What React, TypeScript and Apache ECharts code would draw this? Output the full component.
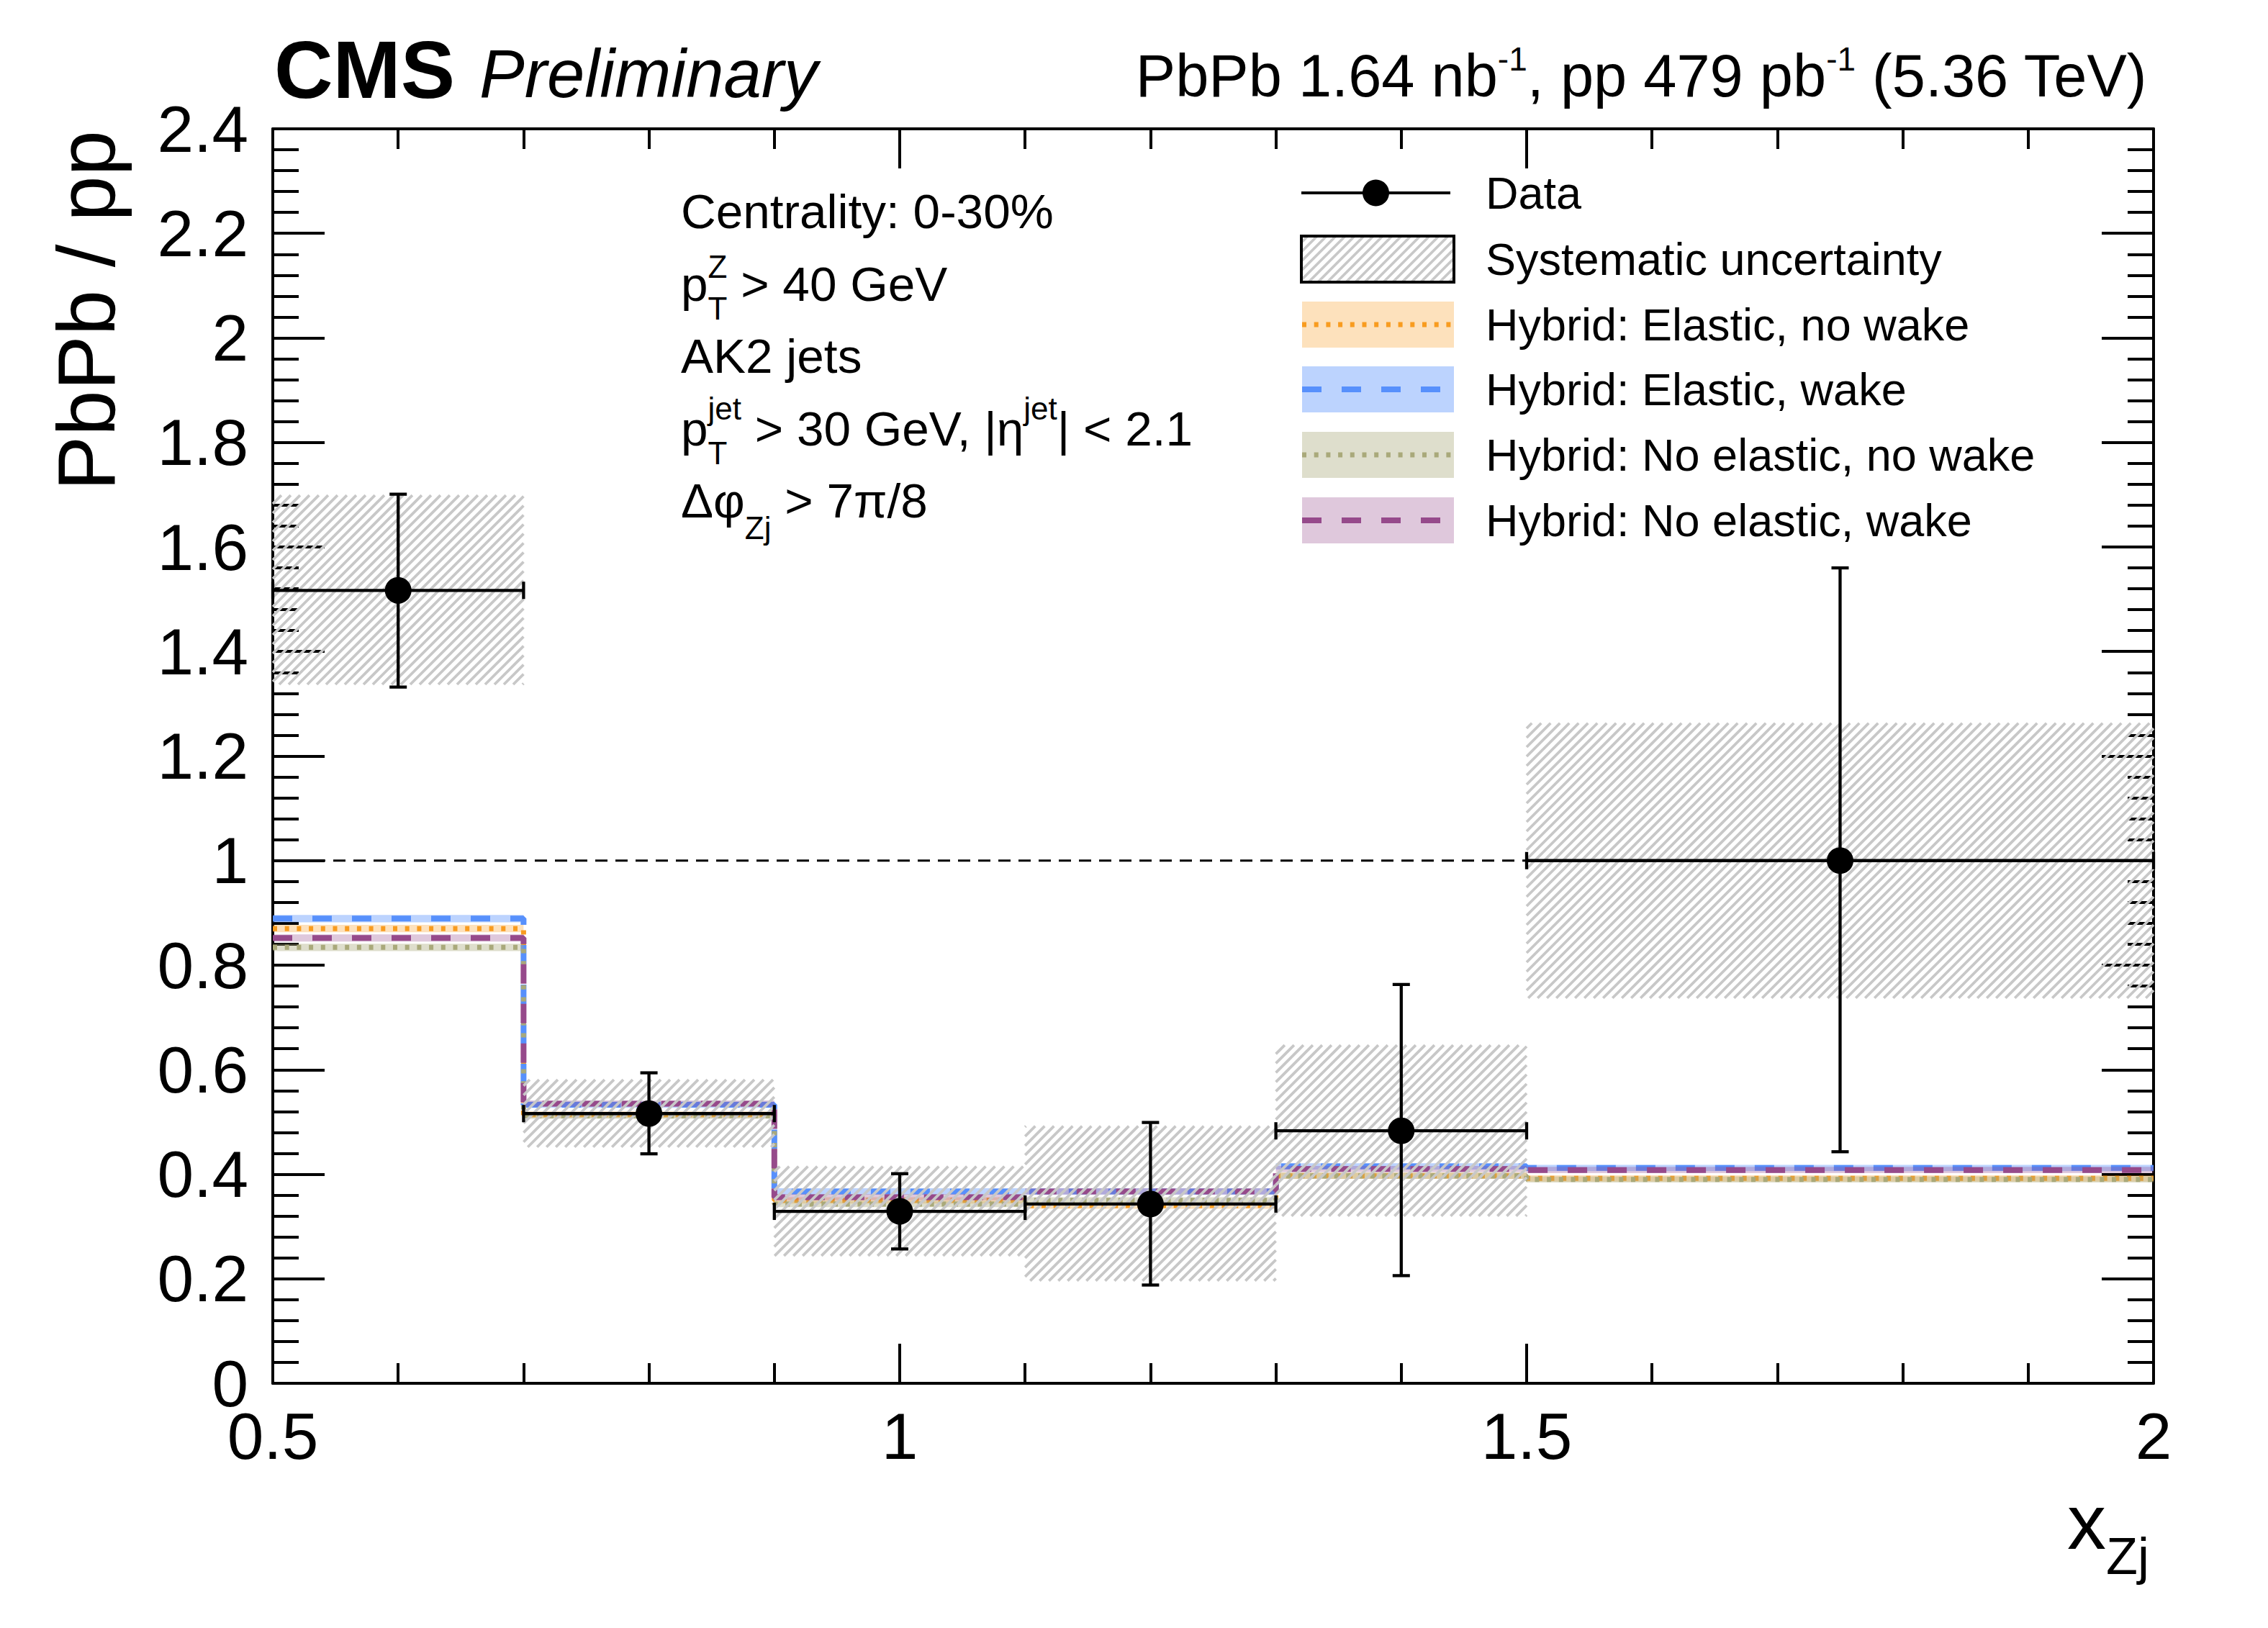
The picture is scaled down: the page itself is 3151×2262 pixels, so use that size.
import React, { useEffect, useRef } from "react";
import * as echarts from "echarts";

// ---------------- data ----------------
const binEdges = [0.5, 0.7, 0.9, 1.1, 1.3, 1.5, 2.0];
const dataX = [0.6, 0.8, 1.0, 1.2, 1.4, 1.75];
const dataY = [1.517, 0.516, 0.329, 0.343, 0.483, 1.0];
const statHigh = [1.701, 0.594, 0.401, 0.499, 0.763, 1.56];
const statLow = [1.332, 0.439, 0.257, 0.188, 0.206, 0.443];
const systHigh = [1.699, 0.581, 0.415, 0.492, 0.647, 1.263];
const systLow = [1.337, 0.452, 0.244, 0.196, 0.32, 0.737];

const elasticNoWake = [0.87, 0.514, 0.35, 0.34, 0.397, 0.392];
const elasticWake = [0.889, 0.533, 0.367, 0.367, 0.415, 0.412];
const noElasticNoWake = [0.834, 0.512, 0.343, 0.35, 0.397, 0.39];
const noElasticWake = [0.852, 0.535, 0.356, 0.367, 0.41, 0.408];
const modelUnc = [0.007, 0.006, 0.006, 0.006, 0.006, 0.006];

const modelValues = [elasticNoWake, elasticWake, noElasticNoWake, noElasticWake];
const legendLabels = [
  "Data",
  "Systematic uncertainty",
  "Hybrid: Elastic, no wake",
  "Hybrid: Elastic, wake",
  "Hybrid: No elastic, no wake",
  "Hybrid: No elastic, wake",
];
const referenceLineY = 1.0;
const referenceLineX = [0.5, 1.5];

const xRange = [0.5, 2.0];
const xInterval = 0.5;
const yRange = [0, 2.4];
const yInterval = 0.2;

// ---------------- styles ----------------
const FONT = '"Liberation Sans", Arial, Helvetica, sans-serif';
const MODEL_STYLES = [
  { line: "#f89c20", band: "rgba(248,156,32,0.30)", dash: [6, 10.7], width: 7 },
  { line: "#5790fc", band: "rgba(87,144,252,0.40)", dash: [27, 28], width: 8 },
  { line: "#a9a97a", band: "rgba(169,169,122,0.38)", dash: [6, 10.7], width: 7 },
  { line: "#964a8b", band: "rgba(150,74,139,0.30)", dash: [27, 28], width: 8 },
];
const HATCH_COLOR = "#c8c8c8";
const HATCH_PERIOD = 13;
const HATCH_WIDTH = 3.8;

const GRID = { left: 379, top: 179, width: 2613, height: 1743 };

// ---------------- helpers ----------------
let measureCtx: CanvasRenderingContext2D | null = null;
function fontStr(size: number, italic?: boolean, bold?: boolean) {
  return `${italic ? "italic" : "normal"} ${bold ? "bold" : "normal"} ${size}px ${FONT}`;
}
function measure(t: string, size: number, italic?: boolean, bold?: boolean) {
  if (!measureCtx) measureCtx = document.createElement("canvas").getContext("2d");
  if (!measureCtx) return t.length * size * 0.55;
  measureCtx.font = fontStr(size, italic, bold);
  return measureCtx.measureText(t).width;
}

type Seg = { t: string; size: number; rise?: number; italic?: boolean; bold?: boolean; stack?: boolean };

function layoutText(segs: Seg[], x: number, baseline: number, align: "left" | "right" = "left") {
  let cursor = 0;
  let lastStart = 0;
  let lastW = 0;
  const placed: { s: Seg; sx: number }[] = [];
  for (const s of segs) {
    const w = measure(s.t, s.size, s.italic, s.bold);
    let sx: number;
    if (s.stack) {
      sx = lastStart;
      lastW = Math.max(lastW, w);
      cursor = lastStart + lastW;
    } else {
      sx = cursor;
      lastStart = cursor;
      lastW = w;
      cursor += w;
    }
    placed.push({ s, sx });
  }
  const offset = align === "right" ? x - cursor : x;
  return placed.map(({ s, sx }) => ({
    type: "text",
    x: offset + sx,
    y: baseline - (s.rise || 0) - 0.347 * s.size,
    silent: true,
    style: {
      text: s.t,
      font: fontStr(s.size, s.italic, s.bold),
      fill: "#000",
      textAlign: "left",
      textVerticalAlign: "middle",
      verticalAlign: "middle",
    },
  }));
}

function hatchLines(x0: number, y0: number, x1: number, y1: number) {
  const out: any[] = [];
  const cStart = Math.ceil((x0 + y0) / HATCH_PERIOD) * HATCH_PERIOD;
  for (let c = cStart; c <= x1 + y1; c += HATCH_PERIOD) {
    const xa = Math.max(x0, c - y1);
    const xb = Math.min(x1, c - y0);
    if (xb - xa > 0.5) {
      out.push({
        type: "line",
        shape: { x1: xa, y1: c - xa, x2: xb, y2: c - xb },
        style: { stroke: HATCH_COLOR, lineWidth: HATCH_WIDTH },
      });
    }
  }
  return out;
}

function buildOption() {
  const axisLine = { show: true, onZero: false, lineStyle: { color: "#000", width: 4 } };
  const xTick = { show: true, inside: true, length: 55, lineStyle: { color: "#000", width: 4 } };
  const xMinor = { show: true, splitNumber: 5, length: 28, lineStyle: { color: "#000", width: 4 } };
  const yTick = { show: true, inside: true, length: 72, lineStyle: { color: "#000", width: 4 } };
  const yMinor = { show: true, splitNumber: 5, length: 36, lineStyle: { color: "#000", width: 4 } };
  const labelStyle = {
    fontSize: 91,
    lineHeight: 70,
    color: "#000",
    fontFamily: FONT,
    showMinLabel: true,
    showMaxLabel: true,
  };

  const bins = binEdges.slice(0, -1).map((e, i) => [e, binEdges[i + 1]]);

  const series: any[] = [];

  modelValues.forEach((vals, m) => {
    const st = MODEL_STYLES[m];
    series.push({
      type: "custom",
      name: legendLabels[m + 2] + " band",
      z: 2 + 2 * m,
      silent: true,
      encode: { x: [0, 1], y: [2, 3] },
      data: bins.map((b, i) => [b[0], b[1], vals[i] - modelUnc[i], vals[i] + modelUnc[i]]),
      renderItem: (_p: any, api: any) => {
        const a = api.coord([api.value(0), api.value(3)]);
        const b = api.coord([api.value(1), api.value(2)]);
        return {
          type: "rect",
          shape: { x: a[0], y: a[1], width: b[0] - a[0], height: b[1] - a[1] },
          style: { fill: st.band },
        };
      },
    });
    const stepPts: number[][] = [];
    bins.forEach((b, i) => {
      stepPts.push([b[0], vals[i]]);
      stepPts.push([b[1], vals[i]]);
    });
    series.push({
      type: "line",
      name: legendLabels[m + 2],
      z: 3 + 2 * m,
      silent: true,
      symbol: "none",
      showSymbol: false,
      data: stepPts,
      lineStyle: { color: st.line, width: st.width, type: st.dash, cap: "butt", opacity: 1 },
    });
  });

  // systematic hatch
  series.push({
    type: "custom",
    name: "Systematic uncertainty",
    z: 20,
    silent: true,
    encode: { x: [0, 1], y: [2, 3] },
    data: bins.map((b, i) => [b[0], b[1], systLow[i], systHigh[i]]),
    renderItem: (_p: any, api: any) => {
      const a = api.coord([api.value(0), api.value(3)]);
      const b = api.coord([api.value(1), api.value(2)]);
      return { type: "group", children: hatchLines(a[0], a[1], b[0], b[1]) };
    },
  });

  // reference dashed line at 1
  series.push({
    type: "line",
    name: "ref",
    z: 21,
    silent: true,
    symbol: "none",
    showSymbol: false,
    data: referenceLineX.map((x) => [x, referenceLineY]),
    lineStyle: { color: "#000", width: 3, type: [17, 11], opacity: 1 },
  });

  // data error bars
  series.push({
    type: "custom",
    name: "Data errors",
    z: 22,
    silent: true,
    encode: { x: [0], y: [1, 2, 3] },
    data: dataX.map((x, i) => [x, dataY[i], statLow[i], statHigh[i], binEdges[i], binEdges[i + 1]]),
    renderItem: (_p: any, api: any) => {
      const x = api.value(0);
      const y = api.value(1);
      const pc = api.coord([x, y]);
      const pl = api.coord([x, api.value(2)]);
      const ph = api.coord([x, api.value(3)]);
      const p0 = api.coord([api.value(4), y]);
      const p1 = api.coord([api.value(5), y]);
      const st = { stroke: "#000", lineWidth: 4.3 };
      const cap = 12;
      const ln = (x1: number, y1: number, x2: number, y2: number) => ({
        type: "line",
        shape: { x1, y1, x2, y2 },
        style: st,
      });
      return {
        type: "group",
        children: [
          ln(pc[0], pl[1], pc[0], ph[1]),
          ln(pc[0] - cap, pl[1], pc[0] + cap, pl[1]),
          ln(pc[0] - cap, ph[1], pc[0] + cap, ph[1]),
          ln(p0[0], pc[1], p1[0], pc[1]),
          ln(p0[0], pc[1] - cap, p0[0], pc[1] + cap),
          ln(p1[0], pc[1] - cap, p1[0], pc[1] + cap),
        ],
      };
    },
  });

  series.push({
    type: "scatter",
    name: "Data",
    z: 23,
    silent: true,
    symbol: "circle",
    symbolSize: 37,
    itemStyle: { color: "#000", borderWidth: 0, opacity: 1 },
    data: dataX.map((x, i) => [x, dataY[i]]),
  });

  // ---------- graphic: texts and legend ----------
  const graphic: any[] = [];

  // CMS Preliminary
  graphic.push(...layoutText([{ t: "CMS", size: 113, bold: true }], 381, 136));
  graphic.push(...layoutText([{ t: "Preliminary", size: 94, italic: true }], 666, 135));

  // header right
  graphic.push(
    ...layoutText(
      [
        { t: "PbPb 1.64 nb", size: 83 },
        { t: "-1", size: 46, rise: 36 },
        { t: ", pp 479 pb", size: 83 },
        { t: "-1", size: 46, rise: 36 },
        { t: " (5.36 TeV)", size: 83 },
      ],
      2984,
      134,
      "right"
    )
  );

  // info block
  const TX = 946;
  const TS = 67.5;
  const SS = 44;
  graphic.push(...layoutText([{ t: "Centrality: 0-30%", size: TS }], TX, 317));
  graphic.push(
    ...layoutText(
      [
        { t: "p", size: TS },
        { t: "T", size: SS, rise: -26 },
        { t: "Z", size: SS, rise: 32, stack: true },
        { t: " > 40 GeV", size: TS },
      ],
      TX,
      418
    )
  );
  graphic.push(...layoutText([{ t: "AK2 jets", size: TS }], TX, 518));
  graphic.push(
    ...layoutText(
      [
        { t: "p", size: TS },
        { t: "T", size: SS, rise: -26 },
        { t: "jet", size: SS, rise: 36, stack: true },
        { t: " > 30 GeV, |η", size: TS },
        { t: "jet", size: SS, rise: 36 },
        { t: "| < 2.1", size: TS },
      ],
      TX,
      619
    )
  );
  graphic.push(
    ...layoutText(
      [
        { t: "Δφ", size: TS },
        { t: "Zj", size: SS, rise: -30 },
        { t: " > 7π/8", size: TS },
      ],
      TX,
      719
    )
  );

  // y axis title (rotated)
  graphic.push({
    type: "text",
    x: 159 - 0.347 * 114,
    y: 181,
    rotation: Math.PI / 2,
    silent: true,
    style: {
      text: "PbPb / pp",
      font: fontStr(114),
      fill: "#000",
      textAlign: "right",
      textVerticalAlign: "middle",
      verticalAlign: "middle",
    },
  });

  // x axis title
  graphic.push(
    ...layoutText(
      [
        { t: "x", size: 108 },
        { t: "Zj", size: 72, rise: -35 },
      ],
      2872,
      2152
    )
  );

  // legend
  const LX0 = 1808;
  const LX1 = 2020;
  const LTX = 2064;
  const rows = [268, 360, 451, 541, 632, 723];
  const LS = 63;
  legendLabels.forEach((lab, i) => {
    graphic.push({
      type: "text",
      x: LTX,
      y: rows[i],
      silent: true,
      style: {
        text: lab,
        font: fontStr(LS),
        fill: "#000",
        textAlign: "left",
        textVerticalAlign: "middle",
        verticalAlign: "middle",
      },
    });
  });
  // data entry
  graphic.push({
    type: "line",
    silent: true,
    shape: { x1: LX0, y1: rows[0], x2: LX1 - 5, y2: rows[0] },
    style: { stroke: "#000", lineWidth: 4 },
  });
  graphic.push({
    type: "circle",
    silent: true,
    shape: { cx: (LX0 + LX1 - 5) / 2, cy: rows[0], r: 18.5 },
    style: { fill: "#000" },
  });
  // syst entry
  graphic.push({
    type: "group",
    silent: true,
    children: hatchLines(LX0, rows[1] - 32, LX1, rows[1] + 32),
  });
  graphic.push({
    type: "rect",
    silent: true,
    shape: { x: LX0, y: rows[1] - 32, width: LX1 - LX0, height: 64 },
    style: { fill: "none", stroke: "#000", lineWidth: 4 },
  });
  // model entries
  MODEL_STYLES.forEach((st, m) => {
    const cy = rows[m + 2];
    graphic.push({
      type: "rect",
      silent: true,
      shape: { x: LX0 + 1, y: cy - 32, width: LX1 - LX0 - 1, height: 64 },
      style: { fill: st.band },
    });
    graphic.push({
      type: "line",
      silent: true,
      shape: { x1: LX0 + 1, y1: cy, x2: LX1 - 2, y2: cy },
      style: { stroke: st.line, lineWidth: st.width, lineDash: st.dash },
    });
  });

  return {
    animation: false,
    backgroundColor: "#ffffff",
    grid: { ...GRID, containLabel: false, outerBoundsMode: "none" },
    xAxis: [
      {
        type: "value",
        position: "bottom",
        min: xRange[0],
        max: xRange[1],
        interval: xInterval,
        axisLine,
        axisTick: xTick,
        minorTick: xMinor,
        splitLine: { show: false },
        minorSplitLine: { show: false },
        axisLabel: { ...labelStyle, margin: 38 },
      },
      {
        type: "value",
        position: "top",
        min: xRange[0],
        max: xRange[1],
        interval: xInterval,
        axisLine,
        axisTick: xTick,
        minorTick: xMinor,
        splitLine: { show: false },
        axisLabel: { show: false },
      },
    ],
    yAxis: [
      {
        type: "value",
        position: "left",
        min: yRange[0],
        max: yRange[1],
        interval: yInterval,
        axisLine,
        axisTick: yTick,
        minorTick: yMinor,
        splitLine: { show: false },
        minorSplitLine: { show: false },
        axisLabel: { ...labelStyle, margin: 34 },
      },
      {
        type: "value",
        position: "right",
        min: yRange[0],
        max: yRange[1],
        interval: yInterval,
        axisLine,
        axisTick: yTick,
        minorTick: yMinor,
        splitLine: { show: false },
        axisLabel: { show: false },
      },
    ],
    series,
    graphic,
  };
}

export default function App() {
  const ref = useRef<HTMLDivElement | null>(null);
  useEffect(() => {
    if (!ref.current) return;
    const chart = echarts.init(ref.current, undefined, { renderer: "svg" });
    chart.setOption(buildOption() as any);
    return () => chart.dispose();
  }, []);
  return (
    <div
      ref={ref}
      style={{ position: "absolute", left: 0, top: 0, width: 3151, height: 2262, background: "#fff" }}
    />
  );
}
